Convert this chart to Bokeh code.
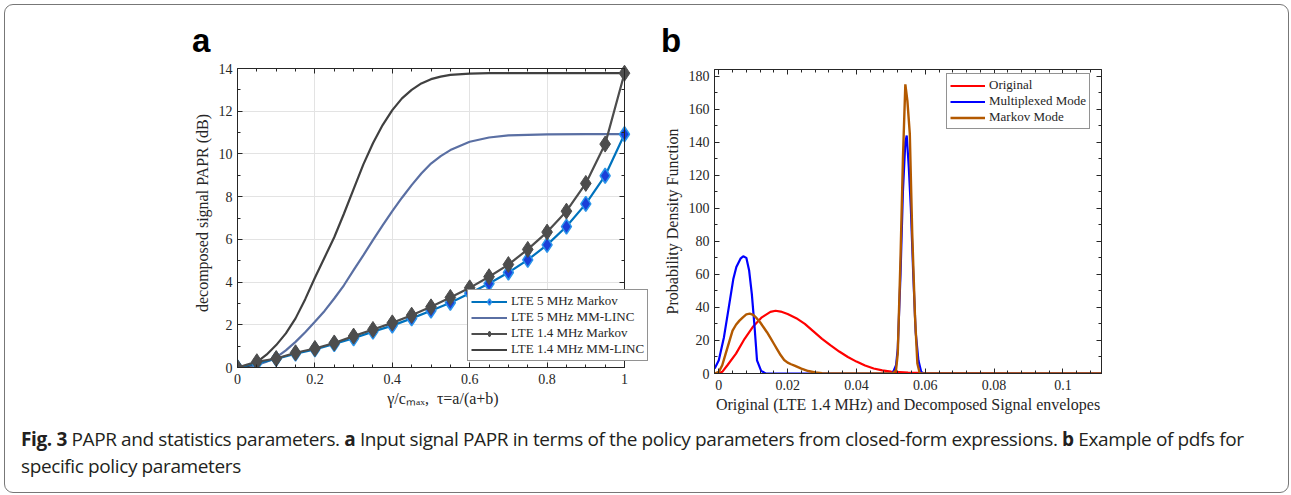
from bokeh.plotting import figure
from bokeh.models import (Range1d, LinearAxis, FixedTicker, Div, CustomJSTickFormatter, Grid,
                          Legend, LegendItem)
from bokeh.layouts import row, column
from bokeh.embed import file_html
from bokeh.resources import INLINE

# ---------------- panel a data ----------------
x_markov = [0.0, 0.05, 0.1, 0.15, 0.2, 0.25, 0.3, 0.35, 0.4, 0.45, 0.5,
            0.55, 0.6, 0.65, 0.7, 0.75, 0.8, 0.85, 0.9, 0.95, 1.0]
papr_5mhz_markov = [0.0, 0.2, 0.4, 0.65, 0.85, 1.1, 1.37, 1.68, 1.96, 2.3, 2.66,
                    3.03, 3.48, 3.93, 4.45, 5.04, 5.74, 6.6, 7.66, 8.98, 10.92]
papr_14mhz_markov = [0.0, 0.27, 0.42, 0.69, 0.89, 1.15, 1.47, 1.78, 2.09, 2.45, 2.84,
                     3.28, 3.73, 4.25, 4.82, 5.53, 6.34, 7.32, 8.62, 10.46, 13.78]
x_linc = [0.0, 0.025, 0.05, 0.075, 0.1, 0.125, 0.15, 0.175, 0.2, 0.225, 0.25,
          0.275, 0.3, 0.325, 0.35, 0.375, 0.4, 0.425, 0.45, 0.475, 0.5, 0.525,
          0.55, 0.6, 0.65, 0.7, 0.8, 0.9, 1.0]
papr_14mhz_linc = [0.0, 0.05, 0.25, 0.6, 1.05, 1.6, 2.3, 3.2, 4.2, 5.15, 6.1,
                   7.2, 8.35, 9.5, 10.5, 11.35, 12.05, 12.6, 13.0, 13.3, 13.5, 13.62,
                   13.7, 13.76, 13.78, 13.78, 13.78, 13.78, 13.78]
papr_5mhz_linc = [0.0, 0.03, 0.12, 0.27, 0.47, 0.8, 1.2, 1.65, 2.14, 2.65, 3.23,
                  3.85, 4.56, 5.25, 5.96, 6.65, 7.32, 7.95, 8.54, 9.08, 9.55, 9.9,
                  10.18, 10.57, 10.77, 10.87, 10.92, 10.93, 10.93]
a_xticks = [0, 0.2, 0.4, 0.6, 0.8, 1]
a_yticks = [0, 2, 4, 6, 8, 10, 12, 14]
a_labels = ["LTE 5 MHz Markov", "LTE 5 MHz MM-LINC", "LTE 1.4 MHz Markov", "LTE 1.4 MHz MM-LINC"]

# ---------------- panel b data ----------------
x_orig = [-0.0012, 0.0, 0.001, 0.0025, 0.005, 0.0075, 0.01, 0.0125, 0.015, 0.0165,
          0.018, 0.02, 0.0225, 0.025, 0.0275, 0.03, 0.0325, 0.035, 0.0375, 0.04,
          0.0425, 0.045, 0.0475, 0.05, 0.055, 0.06, 0.065, 0.07, 0.08, 0.09, 0.1, 0.1112]
pdf_orig = [0, 0, 1, 5, 12, 21, 28.5, 34, 37.3, 38, 37.5, 36, 33.5, 30, 25.5, 21,
            17, 13.3, 10, 7.2, 4.8, 3.0, 1.9, 1.1, 0.5, 0.2, 0.1, 0.05, 0.02, 0, 0, 0]
x_mux = [-0.0012, 0.0, 0.0015, 0.0029, 0.0042, 0.0051, 0.0063, 0.0071, 0.008, 0.0088,
         0.0096, 0.0104, 0.0111, 0.0123, 0.0136, 0.0505, 0.0515, 0.052, 0.0528, 0.0535,
         0.0542, 0.0546, 0.0552, 0.0558, 0.0565, 0.0572, 0.058, 0.0588, 0.0595, 0.1112]
pdf_mux = [3, 8, 22, 40, 57, 64.5, 69.5, 71, 70, 62.5, 48, 28, 8, 1.6, 0, 0, 5, 15,
           60, 110, 140, 144, 125, 100, 60, 25, 8, 1, 0, 0]
x_mkv = [-0.0012, 0.0, 0.001, 0.002, 0.003, 0.004, 0.005, 0.006, 0.007, 0.008, 0.009,
         0.01, 0.011, 0.012, 0.013, 0.014, 0.015, 0.016, 0.017, 0.018, 0.019, 0.02,
         0.021, 0.022, 0.024, 0.026, 0.028, 0.03, 0.035, 0.0505, 0.0515, 0.052, 0.0528,
         0.0535, 0.0542, 0.0548, 0.0555, 0.0562, 0.057, 0.0577, 0.0584, 0.06, 0.1112]
pdf_mkv = [0, 1, 5, 12, 19, 26, 29.5, 32, 34, 35.8, 36.2, 35.5, 33.5, 31, 28, 25,
           21.5, 18, 14.5, 11, 8.2, 6.6, 5.6, 4.8, 3, 1.5, 0.6, 0.2, 0, 0, 2, 12, 70,
           130, 175, 165, 145, 85, 35, 6, 0, 0, 0]
b_xticks = [0, 0.02, 0.04, 0.06, 0.08, 0.1]
b_yticks = [0, 20, 40, 60, 80, 100, 120, 140, 160, 180]

AX = "#262626"
SERIF = "Liberation Serif"
fmt = CustomJSTickFormatter(code="return String(tick);")
blank = CustomJSTickFormatter(code="return '';")
HAS_CROSS = "cross_bounds" in Grid.properties()


def style_axis(ax, labelled):
    ax.axis_line_color = AX
    ax.major_tick_line_color = AX
    ax.minor_tick_line_color = AX
    ax.major_tick_in = 5
    ax.major_tick_out = 0
    ax.minor_tick_in = 3
    ax.minor_tick_out = 0
    ax.major_label_text_font = SERIF
    ax.major_label_text_color = AX
    ax.major_label_text_font_size = "14px"
    ax.axis_label_text_font = SERIF
    ax.axis_label_text_font_style = "normal"
    ax.axis_label_text_color = AX
    ax.axis_label_text_font_size = "16px"
    if labelled:
        ax.formatter = fmt
    else:
        ax.formatter = blank
        ax.major_label_standoff = 0


def make_axes(p, xt, xminor, yt, yminor, xb=None, yb=None):
    tx = FixedTicker(ticks=xt, minor_ticks=xminor)
    ty = FixedTicker(ticks=yt, minor_ticks=yminor)
    bottom, left = p.below[0], p.left[0]
    bottom.ticker = tx
    left.ticker = ty
    top = LinearAxis(ticker=tx)
    right = LinearAxis(ticker=ty)
    if xb is not None:
        bottom.bounds = xb
        top.bounds = xb
        top.fixed_location = yb[1]
        left.bounds = yb
        right.bounds = yb
        right.fixed_location = xb[1]
    p.add_layout(top, "above")
    p.add_layout(right, "right")
    style_axis(bottom, True)
    style_axis(left, True)
    style_axis(top, False)
    style_axis(right, False)
    bottom.major_label_standoff = 6
    left.major_label_standoff = 5
    bottom.axis_label_standoff = 3
    left.axis_label_standoff = 5
    p.xgrid.ticker = tx
    p.ygrid.ticker = ty
    if "frame_align" in p.properties():
        p.frame_align = False
    return bottom, left


def style_legend(lg, loc, gw):
    lg.location = loc
    lg.label_text_font = SERIF
    lg.label_text_font_size = "13px"
    lg.label_text_line_height = 1.0
    lg.label_text_color = AX
    lg.glyph_width = gw
    lg.glyph_height = 15
    lg.label_height = 15
    lg.spacing = 0
    lg.padding = 3
    lg.margin = 0
    lg.label_standoff = 4
    lg.border_line_color = AX
    lg.border_line_width = 1
    lg.background_fill_alpha = 1


# ---------------- panel a ----------------
# the frame is a little larger than the data box so that the legend (which sticks
# out of the axes box in the original) is not clipped
pa = figure(width=645, height=382, output_backend="svg", toolbar_location=None,
            x_range=Range1d(0, 411 / 387), y_range=Range1d(0, 14 * 309 / 299),
            min_border_left=232, min_border_right=2, min_border_top=18,
            min_border_bottom=55)
ba, la = make_axes(pa, a_xticks, [i * 0.05 for i in range(21)], a_yticks,
                   list(range(15)), xb=(0, 1), yb=(0, 14))
ba.axis_label = "\u03b3/c\u2098\u2090\u2093,\u00a0\u00a0\u03c4=a/(a+b)"
la.axis_label = "decomposed signal PAPR (dB)"
pa.outline_line_color = None
GRID = "#e3e3e3"
if HAS_CROSS:
    pa.xgrid.cross_bounds = (0, 14)
    pa.ygrid.cross_bounds = (0, 1)
    pa.grid.grid_line_color = GRID
else:
    pa.grid.grid_line_color = None
    pa.segment(x0=a_xticks, x1=a_xticks, y0=[0] * len(a_xticks), y1=[14] * len(a_xticks),
               color=GRID, line_width=1)
    pa.segment(x0=[0] * len(a_yticks), x1=[1] * len(a_yticks), y0=a_yticks, y1=a_yticks,
               color=GRID, line_width=1)

r_l5 = pa.line(x_linc, papr_5mhz_linc, color="#5a6fa3", line_width=2.2)
r_l14 = pa.line(x_linc, papr_14mhz_linc, color="#404040", line_width=2.2)
r_m5l = pa.line(x_markov, papr_5mhz_markov, color="#0072bd", line_width=2.2)
r_m5s = pa.scatter(x_markov, papr_5mhz_markov, marker="diamond", size=15,
                   fill_color="#1a3fd9", line_color="#2a95ea", line_width=1.5)
r_m14l = pa.line(x_markov, papr_14mhz_markov, color="#4d4d4d", line_width=2.2)
r_m14s = pa.scatter(x_markov, papr_14mhz_markov, marker="diamond", size=16,
                    fill_color="#4d4d4d", line_color="#4d4d4d")

leg_a = Legend(items=[LegendItem(label=a_labels[0], renderers=[r_m5l, r_m5s]),
                      LegendItem(label=a_labels[1], renderers=[r_l5]),
                      LegendItem(label=a_labels[2], renderers=[r_m14l, r_m14s]),
                      LegendItem(label=a_labels[3], renderers=[r_l14])])
style_legend(leg_a, (230, 6), 36)
pa.add_layout(leg_a, "center")

# ---------------- panel b ----------------
pb = figure(width=638, height=388, output_backend="svg", toolbar_location=None,
            x_range=Range1d(-0.00125, 0.1112), y_range=Range1d(0, 184),
            min_border_left=64, min_border_right=187, min_border_top=29,
            min_border_bottom=55)
bb, lb_ = make_axes(pb, b_xticks, [i * 0.004 for i in range(28)], b_yticks,
                    list(range(0, 190, 10)))
bb.axis_label = "Original (LTE 1.4 MHz) and Decomposed Signal envelopes"
lb_.axis_label = "Probability Density Function"
pb.outline_line_color = AX
pb.grid.grid_line_color = None

pb.line(x_orig, pdf_orig, color="#ff0000", line_width=2.2, legend_label="Original")
pb.line(x_mux, pdf_mux, color="#0000ff", line_width=2.2, legend_label="Multiplexed Mode")
pb.line(x_mkv, pdf_mkv, color="#b35900", line_width=2.4, legend_label="Markov Mode")
style_legend(pb.legend[0], (232, 244), 35)

# ---------------- panel letters and caption ----------------
LET = ("position:absolute; top:19px; font-family:'Liberation Sans'; font-weight:bold; "
       "font-size:33px; line-height:33px; color:#000;")
letters = Div(
    text=('<div style="position:relative; width:1283px; height:35px; overflow:visible;">'
          f'<span style="{LET} left:187px;">a</span>'
          f'<span style="{LET} left:656px;">b</span></div>'),
    width=1283, height=35, margin=0, styles={"overflow": "visible", "z-index": "5"})

caption = Div(
    text=('<div style="position:relative; top:-2px; font-family:\'Open Sans\'; '
          'font-size:19px; line-height:27px; letter-spacing:-0.38px; color:#231f20; '
          'padding-left:16px; white-space:nowrap;">'
          '<b>Fig. 3</b> PAPR and statistics parameters. <b>a</b> Input signal PAPR in terms '
          'of the policy parameters from closed-form expressions. <b>b</b> Example of pdfs for'
          '<br>specific policy parameters</div>'),
    width=1283, height=64, margin=0)

layout = column(letters, row(pa, pb), caption,
                styles={"margin-left": "4px", "margin-top": "4px",
                        "border": "1px solid #777777", "border-radius": "9px"})

open("out.html", "w").write(file_html(layout, INLINE))
